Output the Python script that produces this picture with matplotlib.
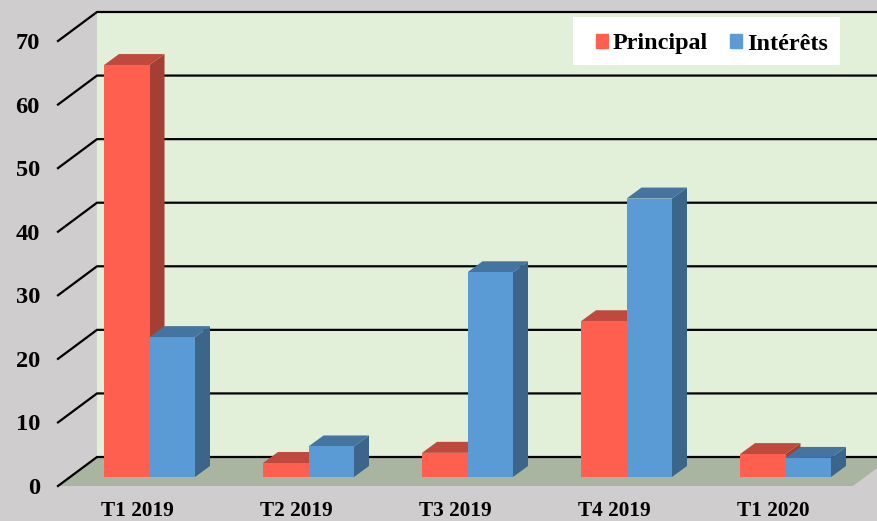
import matplotlib.pyplot as plt
from matplotlib.patches import Polygon, Patch, Rectangle
import numpy as np

categories = ['T1 2019', 'T2 2019', 'T3 2019', 'T4 2019', 'T1 2020']
principal = [64.8, 2.2, 3.8, 24.5, 3.6]
interets = [22.0, 4.8, 32.2, 43.8, 3.0]
yticks = [0, 10, 20, 30, 40, 50, 60, 70]

plt.rcParams['font.family'] = ['Liberation Serif', 'DejaVu Serif']
plt.rcParams['font.weight'] = 'bold'

bg = '#CFCDCE'
fig = plt.figure(figsize=(8.78, 5.21), dpi=100, facecolor=bg)
ax = fig.add_axes([58/878, 35/521, 795/878, 445/521])
ax.set_xlim(0, 5)
ax.set_ylim(0, 70)
ax.set_facecolor('none')
for sp in ax.spines.values():
    sp.set_visible(False)

# pixel sizes to data units
px_x = 5/795
px_y = 70/445
wall_dx, wall_dy = 39*px_x, 29*px_y
base_dx, base_dy = 12*px_x, 9*px_y
bar_dx, bar_dy = 15*px_x, 11*px_y
bar_w = 45.5*px_x


def poly(pts, color, z):
    ax.add_patch(Polygon(pts, closed=True, facecolor=color, edgecolor='none',
                         clip_on=False, zorder=z))


# wall and floor
poly([(wall_dx, wall_dy), (5+wall_dx, wall_dy), (5+wall_dx, 70+wall_dy), (wall_dx, 70+wall_dy)], '#E2EFD9', 1)
poly([(0, 0), (5, 0), (5+wall_dx, wall_dy), (wall_dx, wall_dy)], '#A9B5A1', 2)

# grid lines with the diagonal tick on the left
for v in yticks:
    ax.plot([0, wall_dx, 5+wall_dx], [v, v+wall_dy, v+wall_dy], color='black', lw=1.6,
            clip_on=False, zorder=3, solid_joinstyle='miter')


def bar3d(x0, v, front, side, top, z):
    x0 = x0 + base_dx
    x1 = x0 + bar_w
    b = base_dy
    ax.bar(x0, v, bar_w, bottom=b, align='edge', color=front, clip_on=False, zorder=z+0.2)
    poly([(x1, b), (x1+bar_dx, b+bar_dy), (x1+bar_dx, b+v+bar_dy), (x1, b+v)], side, z)
    poly([(x0, b+v), (x1, b+v), (x1+bar_dx, b+v+bar_dy), (x0+bar_dx, b+v+bar_dy)], top, z+0.1)


pos = np.arange(len(categories)) + 0.5
for i in range(len(categories)):
    bar3d(pos[i]-bar_w, principal[i], '#FF5F4E', '#A33F35', '#C0493D', 4+i)
    bar3d(pos[i], interets[i], '#5B9BD5', '#3B6689', '#44749F', 4.5+i)

ax.set_xticks(pos)
ax.set_xticklabels(categories, fontsize=15.3, fontweight='bold')
ax.set_yticks(yticks)
ax.set_yticklabels([str(v) for v in yticks], fontsize=17.6, fontweight='bold')
ax.tick_params(axis='x', length=0, pad=11)
ax.tick_params(axis='y', length=0, pad=13)

# white box behind the legend
ax.add_patch(Rectangle((573/878, 456/521), 267/878, 48/521, transform=fig.transFigure,
                       facecolor='white', edgecolor='none', zorder=19, clip_on=False))

handles = [Patch(color='#FF5F4E', label='Principal'), Patch(color='#5B9BD5', label='Intérêts')]
leg = ax.legend(handles=handles, ncol=2, loc='center left', bbox_to_anchor=(596/878, 477/521),
                bbox_transform=fig.transFigure, frameon=False, fontsize=17.4, handlelength=0.5,
                handleheight=0.5, handletextpad=0.2, columnspacing=0.9, borderaxespad=0, borderpad=0)
leg.set_zorder(20)

plt.savefig('out.png', dpi=100, facecolor=bg)
